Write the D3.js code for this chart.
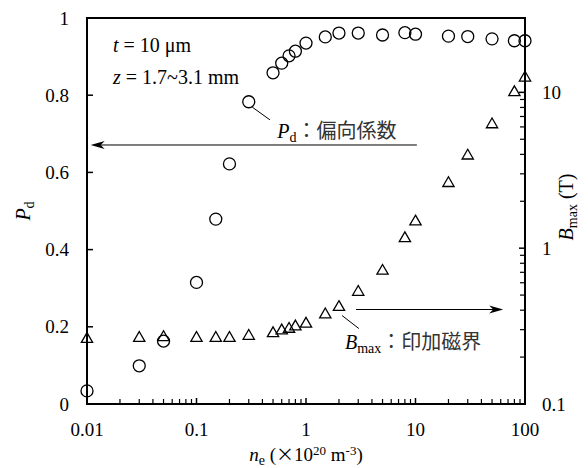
<!DOCTYPE html>
<html>
<head>
<meta charset="utf-8">
<script src="https://cdn.jsdelivr.net/npm/d3@7"></script>
<style>
  body { margin: 0; background: #fff; }
</style>
</head>
<body>
<div id="chart"></div>
<script>
// electron density (x10^20 m^-3)
const ne = [0.01, 0.03, 0.05, 0.1, 0.15, 0.2, 0.3, 0.5, 0.6, 0.7, 0.8, 1, 1.5, 2, 3, 5, 8, 10, 20, 30, 50, 80, 100];
// deflection coefficient Pd (left axis)
const pd = [0.034, 0.099, 0.163, 0.315, 0.479, 0.622, 0.783, 0.858, 0.883, 0.902, 0.914, 0.935, 0.951, 0.961, 0.961, 0.956, 0.962, 0.958, 0.953, 0.952, 0.946, 0.941, 0.941];
// applied field Bmax in T (right axis)
const bmax = [0.261, 0.265, 0.268, 0.265, 0.265, 0.265, 0.273, 0.284, 0.296, 0.303, 0.314, 0.327, 0.375, 0.418, 0.523, 0.714, 1.155, 1.479, 2.61, 3.92, 6.22, 10.0, 12.4];

const xTicks = [0.01, 0.1, 1, 10, 100];
const yTicks = [0, 0.2, 0.4, 0.6, 0.8, 1];
const y2Ticks = [0.1, 1, 10];

const serif = "'Liberation Serif', 'Times New Roman', serif";
const jp = "'Noto Sans CJK JP', sans-serif";

const width = 588, height = 468;
const margin = { top: 18, right: 63, bottom: 64, left: 87 };
const w = width - margin.left - margin.right;
const h = height - margin.top - margin.bottom;

const svg = d3.select("#chart").append("svg")
    .attr("width", width)
    .attr("height", height)
    .style("font-family", serif);

const g = svg.append("g")
    .attr("transform", "translate(" + margin.left + "," + margin.top + ")");

const x = d3.scaleLog().domain([0.01, 100]).range([0, w]);
const y = d3.scaleLinear().domain([0, 1]).range([h, 0]);
const y2 = d3.scaleLog().domain([0.1, 30]).range([h, 0]);

// minor ticks 2..9 in each decade
const xMinor = [];
for (let d = 0.01; d < 100; d *= 10) {
    for (let k = 2; k <= 9; k++) xMinor.push(+(d * k).toPrecision(3));
}
const y2Minor = [];
for (let d = 0.1; d < 10; d *= 10) {
    for (let k = 2; k <= 9; k++) y2Minor.push(+(d * k).toPrecision(3));
}

// frame
g.append("rect")
    .attr("width", w).attr("height", h)
    .attr("fill", "none")
    .attr("stroke", "#000")
    .attr("stroke-width", 2);

function txt(sel) {
    return sel.style("font-family", serif).attr("fill", "#000");
}

// bottom axis, ticks pointing inwards
const xAxis = g.append("g").attr("transform", "translate(0," + h + ")");
xAxis.selectAll(".minor").data(xMinor).enter().append("line")
    .attr("x1", d => x(d)).attr("x2", d => x(d))
    .attr("y1", 0).attr("y2", -5)
    .attr("stroke", "#000").attr("stroke-width", 1.2);
xAxis.selectAll(".major").data(xTicks).enter().append("line")
    .attr("x1", d => x(d)).attr("x2", d => x(d))
    .attr("y1", 0).attr("y2", -6)
    .attr("stroke", "#000").attr("stroke-width", 1.5);
txt(xAxis.selectAll("text").data(xTicks).enter().append("text"))
    .attr("x", d => x(d)).attr("y", 32)
    .attr("text-anchor", "middle")
    .style("font-size", "19px")
    .text(d => d);

// left axis
const yAxis = g.append("g");
yAxis.selectAll("line").data(yTicks).enter().append("line")
    .attr("x1", 0).attr("x2", 6)
    .attr("y1", d => y(d)).attr("y2", d => y(d))
    .attr("stroke", "#000").attr("stroke-width", 1.5);
txt(yAxis.selectAll("text").data(yTicks).enter().append("text"))
    .attr("x", -18).attr("y", d => y(d))
    .attr("dy", "0.35em")
    .attr("text-anchor", "end")
    .style("font-size", "19px")
    .text(d => d);

// right axis (log)
const y2Axis = g.append("g").attr("transform", "translate(" + w + ",0)");
y2Axis.selectAll(".minor").data(y2Minor).enter().append("line")
    .attr("x1", 0).attr("x2", -5)
    .attr("y1", d => y2(d)).attr("y2", d => y2(d))
    .attr("stroke", "#000").attr("stroke-width", 1.2);
y2Axis.selectAll(".major").data(y2Ticks).enter().append("line")
    .attr("x1", 0).attr("x2", -6)
    .attr("y1", d => y2(d)).attr("y2", d => y2(d))
    .attr("stroke", "#000").attr("stroke-width", 1.5);
txt(y2Axis.selectAll("text").data(y2Ticks).enter().append("text"))
    .attr("x", 17).attr("y", d => y2(d))
    .attr("dy", "0.35em")
    .style("font-size", "19px")
    .text(d => d);

// axis titles
const yt = txt(g.append("text"))
    .attr("transform", "translate(-57," + (h / 2) + ") rotate(-90)")
    .attr("text-anchor", "middle")
    .style("font-size", "20px");
yt.append("tspan").style("font-style", "italic").text("P");
yt.append("tspan").attr("dy", 4).style("font-size", "14px").text("d");

const y2t = txt(g.append("text"))
    .attr("transform", "translate(" + (w + 48) + "," + (h / 2 - 4) + ") rotate(-90)")
    .attr("text-anchor", "middle")
    .style("font-size", "20px");
y2t.append("tspan").style("font-style", "italic").text("B");
y2t.append("tspan").attr("dy", 4).style("font-size", "14px").text("max");
y2t.append("tspan").attr("dy", -4).text(" (T)");

const xt = txt(g.append("text"))
    .attr("x", w / 2).attr("y", h + 57)
    .attr("text-anchor", "middle")
    .style("font-size", "19px");
xt.append("tspan").style("font-style", "italic").text("n");
xt.append("tspan").attr("dy", 4).style("font-size", "14px").text("e");
xt.append("tspan").attr("dy", -4).text(" (");
xt.append("tspan").style("font-family", jp).style("font-size", "18px").text("\u00d7");
xt.append("tspan").text("10");
xt.append("tspan").attr("dy", -6).style("font-size", "13px").text("20");
xt.append("tspan").attr("dy", 6).text(" m");
xt.append("tspan").attr("dy", -6).style("font-size", "13px").text("-3");
xt.append("tspan").attr("dy", 6).text(")");

// conditions
const c1 = txt(g.append("text")).attr("x", 26).attr("y", 34).style("font-size", "20px");
c1.append("tspan").style("font-style", "italic").text("t");
c1.append("tspan").text(" = 10 \u03bcm");
const c2 = txt(g.append("text")).attr("x", 26).attr("y", 66).style("font-size", "20px");
c2.append("tspan").style("font-style", "italic").text("z");
c2.append("tspan").text(" = 1.7~3.1 mm");

// annotations: leader lines and arrows
function arrowHead(px, py, dir) {
    // dir = -1 points left, 1 points right
    const L = 14, W = 4;
    return "M" + px + "," + py +
        "L" + (px - dir * L) + "," + (py - W) +
        "L" + (px - dir * (L - 4)) + "," + py +
        "L" + (px - dir * L) + "," + (py + W) + "Z";
}
const ann = g.append("g").attr("stroke", "#000").attr("fill", "none").attr("stroke-width", 1);

// Pd
ann.append("line")
    .attr("x1", x(0.323)).attr("y1", y(0.769))
    .attr("x2", x(0.469)).attr("y2", y(0.736));
ann.append("line")
    .attr("x1", x(0.0108) + 4).attr("y1", y(0.671))
    .attr("x2", x(10.3)).attr("y2", y(0.671));
g.append("path").attr("d", arrowHead(x(0.0108), y(0.671), -1)).attr("fill", "#000");
const pl = txt(g.append("text")).attr("x", x(0.546)).attr("y", y(0.689)).style("font-size", "20px");
pl.append("tspan").style("font-style", "italic").text("P");
pl.append("tspan").attr("dy", 4).style("font-size", "14px").text("d");
pl.append("tspan").attr("dy", -4).style("font-family", jp).style("font-size", "20px").attr("fill", "#333").text("\uff1a偏向係数");

// Bmax
ann.append("line")
    .attr("x1", x(2.13)).attr("y1", y2(0.37))
    .attr("x2", x(3.04)).attr("y2", y2(0.305));
ann.append("line")
    .attr("x1", x(2.86)).attr("y1", y2(0.404))
    .attr("x2", x(63.2) - 4).attr("y2", y2(0.404));
g.append("path").attr("d", arrowHead(x(63.2), y2(0.404), 1)).attr("fill", "#000");
const bl = txt(g.append("text")).attr("x", x(2.27)).attr("y", y2(0.226)).style("font-size", "20px");
bl.append("tspan").style("font-style", "italic").text("B");
bl.append("tspan").attr("dy", 4).style("font-size", "14px").text("max");
bl.append("tspan").attr("dy", -4).style("font-family", jp).style("font-size", "20px").attr("fill", "#333").text("\uff1a印加磁界");

// data marks
g.append("g").selectAll("path")
    .data(ne.map((d, i) => ({ x: d, v: bmax[i] })))
    .enter().append("path")
    .attr("transform", d => "translate(" + x(d.x) + "," + y2(d.v) + ")")
    .attr("d", d3.symbol(d3.symbolTriangle, 55))
    .attr("fill", "none")
    .attr("stroke", "#000")
    .attr("stroke-width", 1.3);

g.append("g").selectAll("circle")
    .data(ne.map((d, i) => ({ x: d, v: pd[i] })))
    .enter().append("circle")
    .attr("cx", d => x(d.x))
    .attr("cy", d => y(d.v))
    .attr("r", 6)
    .attr("fill", "none")
    .attr("stroke", "#000")
    .attr("stroke-width", 1.3);
</script>
</body>
</html>
